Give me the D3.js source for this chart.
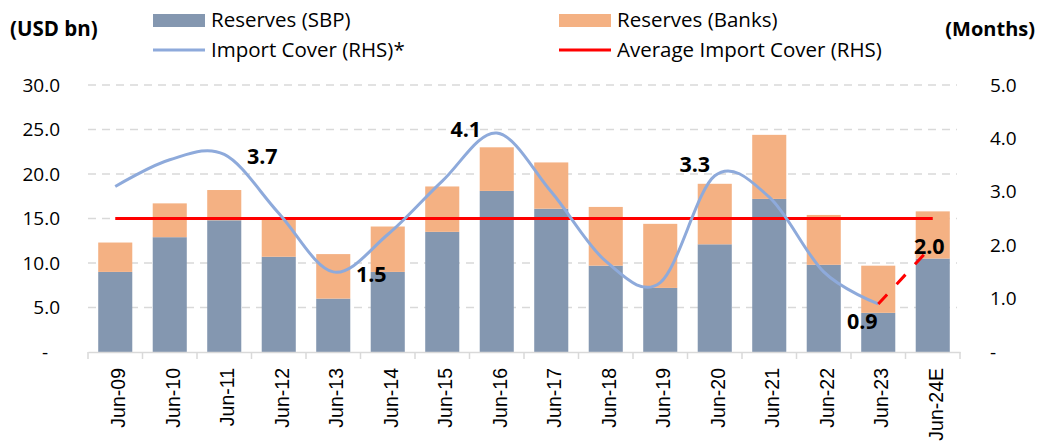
<!DOCTYPE html>
<html>
  <head>
    <meta charset="utf-8">
    <title>reserves</title>
    <script src="https://cdn.jsdelivr.net/npm/d3@7"></script>
    <style>
      body { margin: 0; background: #fff; }
      text { font-family: "Open Sans", "Noto Sans", sans-serif; fill: #000; }
    </style>
  </head>
  <body>
    <svg width="1039" height="445"></svg>
    <script>
      // data
      var categories = ["Jun-09","Jun-10","Jun-11","Jun-12","Jun-13","Jun-14","Jun-15","Jun-16",
                        "Jun-17","Jun-18","Jun-19","Jun-20","Jun-21","Jun-22","Jun-23","Jun-24E"];
      var reservesSBP   = [9.0, 12.9, 14.8, 10.7, 6.0, 9.0, 13.5, 18.1, 16.1, 9.7, 7.2, 12.1, 17.2, 9.8, 4.4, 10.5];
      var reservesBanks = [3.3, 3.8, 3.4, 4.4, 5.0, 5.1, 5.1, 4.9, 5.2, 6.6, 7.2, 6.8, 7.2, 5.6, 5.3, 5.3];
      var importCover   = [3.1, 3.6, 3.7, 2.6, 1.5, 2.2, 3.2, 4.1, 3.0, 1.7, 1.3, 3.3, 2.9, 1.5, 0.9, 2.0];
      var avgImportCover = 2.5;
      var leftTicks  = [0, 5, 10, 15, 20, 25, 30];
      var rightTicks = [0, 1, 2, 3, 4, 5];
      var labelled = ["Jun-11","Jun-13","Jun-16","Jun-20","Jun-23","Jun-24E"];

      var svg = d3.select("svg");
      var fmt = d3.format(".1f");

      var x = d3.scaleBand().domain(categories).range([88, 960])
          .paddingInner(0.375).paddingOuter(0.1875);
      var y = d3.scaleLinear().domain([0, 30]).range([352, 85]);
      var y2 = d3.scaleLinear().domain([0, 5]).range([352, 85]);
      var cx = function(c){ return x(c) + x.bandwidth()/2; };

      // grid
      svg.append("g").selectAll("line")
        .data(leftTicks.filter(function(d){ return d > 0; }))
        .enter().append("line")
        .attr("x1", 88).attr("x2", 957)
        .attr("y1", function(d){ return y(d); }).attr("y2", function(d){ return y(d); })
        .attr("stroke", "#d9d9d9").attr("stroke-width", 1.5)
        .attr("stroke-dasharray", "8,6");

      // bars
      var rows = categories.map(function(c, i){
        return {cat: c, sbp: reservesSBP[i], banks: reservesBanks[i]};
      });
      var bars = svg.append("g");
      bars.selectAll(".sbp").data(rows).enter().append("rect")
        .attr("x", function(d){ return x(d.cat); })
        .attr("width", x.bandwidth())
        .attr("y", function(d){ return y(d.sbp); })
        .attr("height", function(d){ return y(0) - y(d.sbp); })
        .attr("fill", "#8497b0");
      bars.selectAll(".banks").data(rows).enter().append("rect")
        .attr("x", function(d){ return x(d.cat); })
        .attr("width", x.bandwidth())
        .attr("y", function(d){ return y(d.sbp + d.banks); })
        .attr("height", function(d){ return y(d.sbp) - y(d.sbp + d.banks); })
        .attr("fill", "#f4b183");

      // x axis
      var xAxis = svg.append("g").attr("transform", "translate(0,352)")
        .call(d3.axisBottom(x).tickSize(0).tickFormat(""));
      xAxis.select(".domain").attr("stroke", "#d9d9d9").attr("stroke-width", 1.5);
      xAxis.selectAll(".tick").remove();
      svg.append("g").selectAll("line")
        .data(d3.range(categories.length + 1))
        .enter().append("line")
        .attr("x1", function(i){ return 88 + i * x.step(); })
        .attr("x2", function(i){ return 88 + i * x.step(); })
        .attr("y1", 352).attr("y2", 359)
        .attr("stroke", "#d9d9d9").attr("stroke-width", 1.5);
      svg.append("g").selectAll("text")
        .data(categories).enter().append("text")
        .attr("transform", function(d){ return "translate(" + (cx(d) + 10) + ",368) rotate(-90)"; })
        .attr("text-anchor", "end")
        .style("font-family", "'Liberation Sans', Arial, sans-serif")
        .style("font-size", "19.5px")
        .text(function(d){ return d; });

      // left axis labels
      svg.append("g").selectAll("text")
        .data(leftTicks).enter().append("text")
        .attr("x", function(d){ return d === 0 ? 48 : 60; })
        .attr("y", function(d){ return y(d); })
        .attr("dy", "0.35em")
        .attr("text-anchor", "end")
        .style("font-size", "19px")
        .text(function(d){ return d === 0 ? "-" : fmt(d); });

      // right axis labels
      svg.append("g").selectAll("text")
        .data(rightTicks).enter().append("text")
        .attr("x", 990)
        .attr("y", function(d){ return y2(d); })
        .attr("dy", "0.35em")
        .style("font-size", "19px")
        .text(function(d){ return d === 0 ? "-" : fmt(d); });

      // average line
      svg.append("line")
        .attr("x1", cx(categories[0])).attr("x2", cx(categories[categories.length - 1]))
        .attr("y1", y2(avgImportCover)).attr("y2", y2(avgImportCover))
        .attr("stroke", "#ff0000").attr("stroke-width", 3);

      // import cover line
      var pts = categories.map(function(c, i){ return {cat: c, v: importCover[i]}; });
      var line = d3.line()
        .x(function(d){ return cx(d.cat); })
        .y(function(d){ return y2(d.v); })
        .curve(d3.curveCardinal.tension(0));
      svg.append("path")
        .datum(pts.slice(0, pts.length - 1))
        .attr("d", line)
        .attr("fill", "none")
        .attr("stroke", "#8eaadb").attr("stroke-width", 3);
      svg.append("path")
        .datum(pts.slice(pts.length - 2))
        .attr("d", d3.line().x(function(d){ return cx(d.cat); }).y(function(d){ return y2(d.v); }))
        .attr("fill", "none")
        .attr("stroke", "#ff0000").attr("stroke-width", 3)
        .attr("stroke-dasharray", "13,14");

      // data labels
      var offsets = {
        "Jun-11": [38, 2.5], "Jun-13": [38, 3], "Jun-16": [-31, -3.5],
        "Jun-20": [-20, -11], "Jun-23": [-16, 17.5], "Jun-24E": [-3.5, 1.5]
      };
      svg.append("g").selectAll("text")
        .data(pts.filter(function(d){ return labelled.indexOf(d.cat) >= 0; }))
        .enter().append("text")
        .attr("x", function(d){ return cx(d.cat) + offsets[d.cat][0]; })
        .attr("y", function(d){ return y2(d.v) + offsets[d.cat][1]; })
        .attr("dy", "0.35em")
        .attr("text-anchor", "middle")
        .style("font-size", "21.5px").style("font-weight", "bold")
        .text(function(d){ return fmt(d.v); });

      // axis titles
      svg.append("text").attr("x", 10).attr("y", 36)
        .style("font-size", "20.5px").style("font-weight", "bold").text("(USD bn)");
      svg.append("text").attr("x", 1035).attr("y", 36).attr("text-anchor", "end")
        .style("font-size", "20px").style("font-weight", "bold").text("(Months)");

      // legend
      var legend = svg.append("g").style("font-size", "20.5px");
      legend.append("rect").attr("x", 153).attr("y", 14).attr("width", 52).attr("height", 13).attr("fill", "#8497b0");
      legend.append("text").attr("x", 211).attr("y", 27).text("Reserves (SBP)");
      legend.append("line").attr("x1", 153).attr("x2", 205).attr("y1", 50).attr("y2", 50)
        .attr("stroke", "#8eaadb").attr("stroke-width", 3);
      legend.append("text").attr("x", 211).attr("y", 57).text("Import Cover (RHS)*");
      legend.append("rect").attr("x", 559).attr("y", 14).attr("width", 52).attr("height", 13).attr("fill", "#f4b183");
      legend.append("text").attr("x", 617).attr("y", 27).text("Reserves (Banks)");
      legend.append("line").attr("x1", 559).attr("x2", 611).attr("y1", 50).attr("y2", 50)
        .attr("stroke", "#ff0000").attr("stroke-width", 3);
      legend.append("text").attr("x", 617).attr("y", 57).text("Average Import Cover (RHS)");
    </script>
  </body>
</html>
